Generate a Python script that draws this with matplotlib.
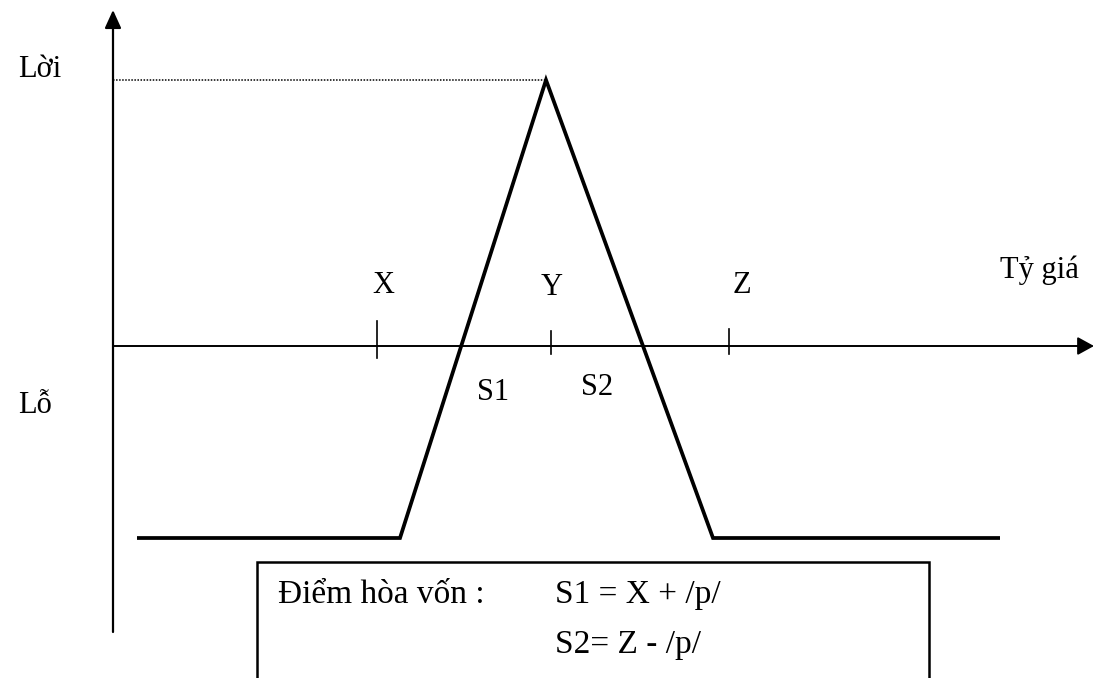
import matplotlib
matplotlib.use("Agg")
import matplotlib.pyplot as plt
from matplotlib.patches import FancyArrowPatch, Rectangle

# ---- data (chart units: origin at the axes crossing) ----
payoff_x = [24, 287, 433, 600, 887]
payoff_y = [-192, -192, 266, -192, -192]

tick_names = ["X", "Y", "Z"]
tick_pos = [264, 438, 616]
tick_top = [25, 15, 17]
tick_bottom = [-12, -8, -8]

peak_profit = 266
peak_rate = 433

y_label_top = "Lời"
y_label_bottom = "Lỗ"
x_label = "Tỷ giá"
s_labels = ["S1", "S2"]
box_title = "Điểm hòa vốn :"
box_lines = ["S1 = X + /p/", "S2= Z - /p/"]

FONT = "Liberation Serif"
FS = 22
FS_BOX = 24

fig = plt.figure(figsize=(10.94, 6.78), dpi=100)
ax = fig.add_axes([0, 0, 1, 1])
ax.set_xlim(-113, 981)
ax.set_ylim(-332, 346)
ax.axis("off")

# axes with arrows
ax.add_patch(FancyArrowPatch((0, -286), (0, 336), arrowstyle="-|>,head_length=11,head_width=5",
                             mutation_scale=1, lw=1.6, color="black", shrinkA=0, shrinkB=0))
ax.add_patch(FancyArrowPatch((0, 0), (981, 0), arrowstyle="-|>,head_length=10,head_width=5.5",
                             mutation_scale=1, lw=1.4, color="black", shrinkA=0, shrinkB=0))

# dotted line to peak
ax.plot([0, peak_rate], [peak_profit, peak_profit], color="black", lw=1.1, ls=(0, (1, 1)))

# payoff line
ax.plot(payoff_x, payoff_y, color="black", lw=2.7, solid_joinstyle="miter", solid_capstyle="butt")

# ticks and their labels
for name, p, t, b in zip(tick_names, tick_pos, tick_top, tick_bottom):
    ax.plot([p, p], [b, t], color="black", lw=1.2)
ax.text(270, 53, "X", ha="center", va="baseline", fontsize=FS, family=FONT)
ax.text(439, 51, "Y", ha="center", va="baseline", fontsize=FS, family=FONT)
ax.text(629, 53, "Z", ha="center", va="baseline", fontsize=FS, family=FONT)

# axis labels
ax.text(-95, 269, y_label_top, ha="left", va="baseline", fontsize=FS, family=FONT)
ax.text(-95, -67, y_label_bottom, ha="left", va="baseline", fontsize=FS, family=FONT)
ax.text(887, 68, x_label, ha="left", va="baseline", fontsize=FS, family=FONT)

# S1, S2
t1 = ax.text(380, -54, s_labels[0], ha="center", va="baseline", fontsize=FS, family=FONT)
clip = Rectangle((300, -51), 200, 60, transform=ax.transData, facecolor="none", edgecolor="none")
ax.add_patch(clip)
t1.set_clip_path(clip)
ax.text(484, -49, s_labels[1], ha="center", va="baseline", fontsize=FS, family=FONT)

# box
ax.add_patch(Rectangle((144, -360), 672, 144, facecolor="none", edgecolor="black", lw=1.8))
ax.text(165, -257, box_title, ha="left", va="baseline", fontsize=FS_BOX, family=FONT)
ax.text(442, -257, box_lines[0], ha="left", va="baseline", fontsize=FS_BOX, family=FONT)
ax.text(442, -307, box_lines[1], ha="left", va="baseline", fontsize=FS_BOX, family=FONT)

fig.savefig("out.png", dpi=100, facecolor="white")
